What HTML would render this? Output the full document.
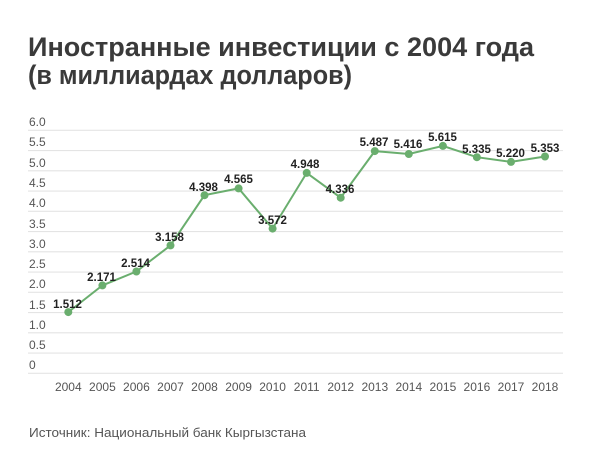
<!DOCTYPE html>
<html><head><meta charset="utf-8"><style>
html,body{margin:0;padding:0;background:#fff;}
svg{display:block;font-family:"Liberation Sans","DejaVu Sans",sans-serif;}
</style></head><body>
<svg width="600" height="469" viewBox="0 0 600 469" xmlns="http://www.w3.org/2000/svg">
<rect width="600" height="469" fill="#fff"/>
<text x="28" y="56" font-size="27" font-weight="bold" fill="#3a3a3a" textLength="506" lengthAdjust="spacingAndGlyphs">Иностранные инвестиции с 2004 года</text>
<text x="28" y="84" font-size="27" font-weight="bold" fill="#3a3a3a" textLength="324" lengthAdjust="spacingAndGlyphs">(в миллиардах долларов)</text>
<g stroke="#e4e4e4" stroke-width="1.2">
<line x1="28" y1="130.3" x2="563" y2="130.3"/>
<line x1="28" y1="150.55" x2="563" y2="150.55"/>
<line x1="28" y1="170.8" x2="563" y2="170.8"/>
<line x1="28" y1="191.05" x2="563" y2="191.05"/>
<line x1="28" y1="211.3" x2="563" y2="211.3"/>
<line x1="28" y1="231.55" x2="563" y2="231.55"/>
<line x1="28" y1="251.8" x2="563" y2="251.8"/>
<line x1="28" y1="272.05" x2="563" y2="272.05"/>
<line x1="28" y1="292.3" x2="563" y2="292.3"/>
<line x1="28" y1="312.55" x2="563" y2="312.55"/>
<line x1="28" y1="332.8" x2="563" y2="332.8"/>
<line x1="28" y1="353.05" x2="563" y2="353.05"/>
<line x1="28" y1="373.3" x2="563" y2="373.3"/>
</g>
<g font-size="12" fill="#555">
<text x="29" y="126">6.0</text><text x="29" y="146">5.5</text><text x="29" y="167">5.0</text>
<text x="29" y="187">4.5</text><text x="29" y="207">4.0</text><text x="29" y="228">3.5</text>
<text x="29" y="248">3.0</text><text x="29" y="268">2.5</text><text x="29" y="288">2.0</text>
<text x="29" y="309">1.5</text><text x="29" y="329">1.0</text><text x="29" y="349">0.5</text>
<text x="29" y="369">0</text>
</g>
<g font-size="12" fill="#555" text-anchor="middle">
<text x="68.3" y="391">2004</text><text x="102.4" y="391">2005</text><text x="136.4" y="391">2006</text>
<text x="170.5" y="391">2007</text><text x="204.5" y="391">2008</text><text x="238.6" y="391">2009</text>
<text x="272.6" y="391">2010</text><text x="306.7" y="391">2011</text><text x="340.7" y="391">2012</text>
<text x="374.8" y="391">2013</text><text x="408.8" y="391">2014</text><text x="442.9" y="391">2015</text>
<text x="476.9" y="391">2016</text><text x="511" y="391">2017</text><text x="545" y="391">2018</text>
</g>
<polyline fill="none" stroke="#6aae6e" stroke-width="2" points="68.3,312.1 102.4,285.4 136.4,271.5 170.5,245.4 204.5,195.2 238.6,188.4 272.6,228.6 306.7,172.9 340.7,197.7 374.8,151.1 408.8,154 442.9,145.9 476.9,157.2 511,161.9 545,156.5"/>
<g fill="#6aae6e">
<circle cx="68.3" cy="312.1" r="4"/><circle cx="102.4" cy="285.4" r="4"/><circle cx="136.4" cy="271.5" r="4"/>
<circle cx="170.5" cy="245.4" r="4"/><circle cx="204.5" cy="195.2" r="4"/><circle cx="238.6" cy="188.4" r="4"/>
<circle cx="272.6" cy="228.6" r="4"/><circle cx="306.7" cy="172.9" r="4"/><circle cx="340.7" cy="197.7" r="4"/>
<circle cx="374.8" cy="151.1" r="4"/><circle cx="408.8" cy="154" r="4"/><circle cx="442.9" cy="145.9" r="4"/>
<circle cx="476.9" cy="157.2" r="4"/><circle cx="511" cy="161.9" r="4"/><circle cx="545" cy="156.5" r="4"/>
</g>
<g font-size="11.5" font-weight="bold" fill="#222" text-anchor="middle">
<text x="67.5" y="308">1.512</text><text x="101.5" y="281">2.171</text><text x="135.5" y="267">2.514</text>
<text x="169.5" y="241">3.158</text><text x="203.5" y="191">4.398</text><text x="238.5" y="183">4.565</text>
<text x="272.5" y="224">3.572</text><text x="305" y="168">4.948</text><text x="340" y="193">4.336</text>
<text x="374" y="146">5.487</text><text x="408" y="148">5.416</text><text x="442.5" y="141">5.615</text>
<text x="476.5" y="153">5.335</text><text x="510.5" y="157">5.220</text><text x="545" y="152">5.353</text>
</g>
<text x="29" y="437" font-size="13" fill="#555" textLength="277" lengthAdjust="spacingAndGlyphs">Источник:  Национальный банк Кыргызстана</text>
</svg>
</body></html>
